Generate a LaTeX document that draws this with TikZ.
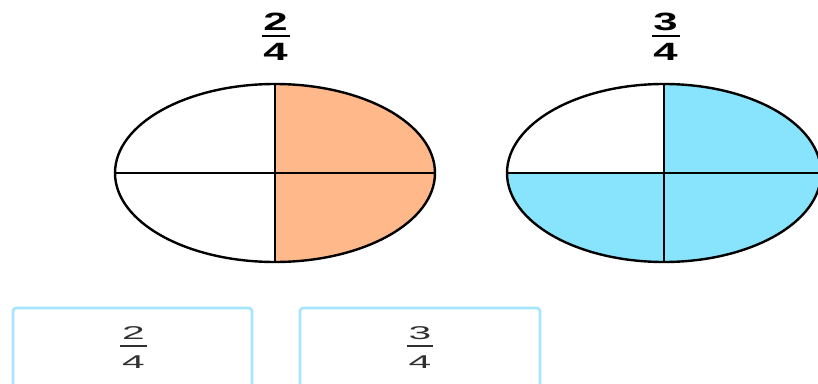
\documentclass[tikz,border=0pt]{standalone}
\usepackage{fontspec}
\setmainfont{Liberation Sans}
\definecolor{peach}{HTML}{FFB88A}
\definecolor{skyb}{HTML}{88E3FC}
\definecolor{boxblue}{HTML}{A8E6FF}
\definecolor{txtgray}{HTML}{303030}
\begin{document}
\begin{tikzpicture}[x=1pt,y=1pt,
  topdig/.style={inner sep=0pt,font=\fontsize{25}{25}\selectfont\bfseries,xscale=1.75},
  botdig/.style={inner sep=0pt,font=\fontsize{18.5}{18.5}\selectfont,text=txtgray,xscale=2.2},
  ansbox/.style={draw=boxblue,line width=2.6pt,rounded corners=3pt},
  rim/.style={draw=black,line width=2.4pt},
  divider/.style={draw=black,line width=2pt}]
\useasboundingbox (0,0) rectangle (818,383);
% left ellipse (2/4)
\coordinate (L) at (275,210);
\begin{scope}
  \clip (L) ellipse [x radius=160, y radius=89];
  \fill[peach] (275,100) rectangle (440,310);
\end{scope}
\draw[divider] (115,210) -- (435,210);
\draw[divider] (275,121) -- (275,299);
\draw[rim] (L) ellipse [x radius=160, y radius=89];
% right ellipse (3/4)
\coordinate (R) at (664,210);
\begin{scope}
  \clip (R) ellipse [x radius=157, y radius=89];
  \fill[skyb] (664,100) rectangle (830,310);
  \fill[skyb] (500,100) rectangle (664,210);
\end{scope}
\draw[divider] (507,210) -- (821,210);
\draw[divider] (664,121) -- (664,299);
\draw[rim] (R) ellipse [x radius=157, y radius=89];
% top labels
\node[topdig] (n1) at (275.5,361) {2};
\node[topdig] (d1) at (275.5,331) {4};
\draw[line width=2pt] (261.5,347) -- (289.5,347);
\node[topdig] (n2) at (665.5,361) {3};
\node[topdig] (d2) at (665.5,331) {4};
\draw[line width=2pt] (651.5,347) -- (679.5,347);
% answer boxes
\draw[ansbox] (13,-10) rectangle (252,75);
\draw[ansbox] (300,-10) rectangle (540,75);
\node[botdig] (bn1) at (133.5,49.5) {2};
\node[botdig] (bd1) at (133.5,21) {4};
\draw[txtgray,line width=1.4pt] (120,37) -- (147,37);
\node[botdig] (bn2) at (420,49.5) {3};
\node[botdig] (bd2) at (420,21) {4};
\draw[txtgray,line width=1.4pt] (407,37) -- (433,37);
\end{tikzpicture}
\end{document}
